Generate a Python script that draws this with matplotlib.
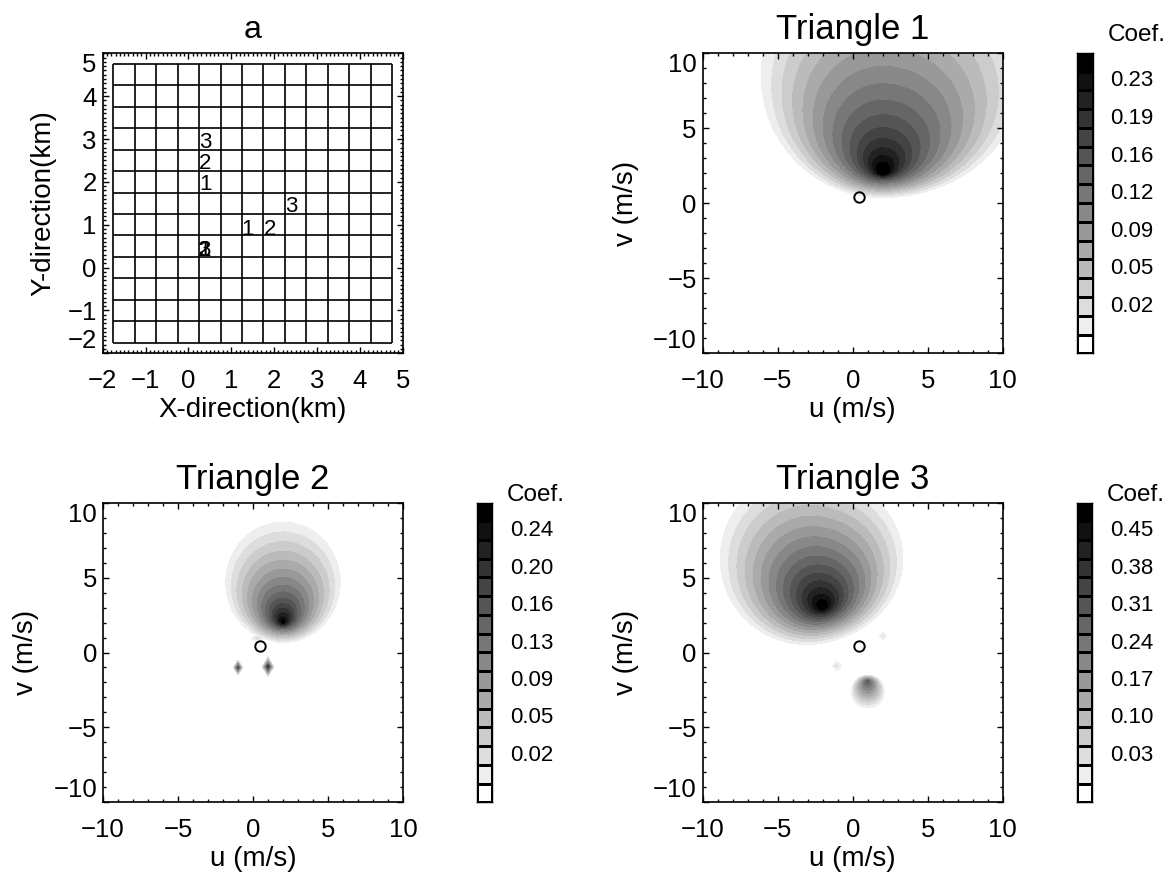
import numpy as np
import matplotlib
matplotlib.use("Agg")
import matplotlib.pyplot as plt
from matplotlib.transforms import offset_copy

plt.rcParams['font.family'] = ['Liberation Sans', 'DejaVu Sans']

# ---------------- data ----------------
# panel a: receiver grid (km) and triangle vertex labels
grid_edges = [-1.75, -1.25, -0.75, -0.25, 0.25, 0.75, 1.25, 1.75,
              2.25, 2.75, 3.25, 3.75, 4.25, 4.75]
site_text = ['1', '2', '3', '1', '2', '3', '1', '2', '3']
site_x = [0.39, 0.39, 0.39, 1.39, 1.90, 2.41, 0.37, 0.37, 0.37]
site_y = [1.94, 2.43, 2.92, 0.90, 0.90, 1.43, 0.41, 0.41, 0.41]
a_ticks = [-2, -1, 0, 1, 2, 3, 4, 5]

# velocity-space axes
uv_ticks = [-10, -5, 0, 5, 10]
true_wind = (0.44, 0.42)

# coefficient level step and colorbar labels for each triangle
t1_step = 0.0175
t1_cb_labels = ['0.02', '0.05', '0.09', '0.12', '0.16', '0.19', '0.23']
t2_step = 0.0182
t2_cb_labels = ['0.02', '0.05', '0.09', '0.13', '0.16', '0.20', '0.24']
t3_step = 0.0345
t3_cb_labels = ['0.03', '0.10', '0.17', '0.24', '0.31', '0.38', '0.45']

# correlation lobes:
# (u0, v0, shift_u, shift_v, stretch_left, stretch_right, a_lin, r_max, a_peak, r_peak)
t1_lobes = [(2.0, 2.0, 0.0, 0.80, 1.0, 1.15, 0.22, 8.8, 0.08, 1.0)]
t2_lobes = [(2.0, 2.0, 0.0, 0.67, 0.95, 0.95, 0.20, 4.4, 0.09, 0.8)]
t3_lobes = [(-2.0, 3.0, -0.19, 0.57, 1.0, 1.15, 0.45, 6.2, 0.12, 1.2),
            (1.0, -1.9, 0.0, -0.64, 1.0, 1.0, 0.35, 1.22, 0.0, 1.0)]
# isolated spikes: (u0, v0, peak, half-width u, half-width v)
t1_spikes = []
t2_spikes = [(-1.0, -1.0, 0.20, 0.36, 0.55),
             (1.0, -0.95, 0.22, 0.45, 0.72),
             (0.3, 0.95, 0.05, 0.60, 0.40)]
t3_spikes = [(-1.07, -0.9, 0.08, 0.55, 0.55),
             (2.0, 1.1, 0.07, 0.45, 0.45)]

N_BOX = 16


def lobe(U, V, u0, v0, bu, bv, sl, sr, a_lin, r_max, a_pk, r_pk):
    # radius of the offset circle through each point: contours are circles
    # whose centres drift away from the peak as they grow
    du = U - u0
    du = np.where(du < 0, du / sl, du / sr)
    dv = V - v0
    k2 = bu ** 2 + bv ** 2
    p = bu * du + bv * dv
    q = du ** 2 + dv ** 2
    R = (-p + np.sqrt(p ** 2 + (1 - k2) * q)) / (1 - k2)
    return a_lin * np.clip(1 - R / r_max, 0, None) + a_pk * np.exp(-R / r_pk)


def spike(U, V, u0, v0, peak, wu, wv):
    return peak * np.clip(1 - np.abs(U - u0) / wu - np.abs(V - v0) / wv, 0, None)


def field(lobes, spikes):
    g = np.linspace(-10, 10, 401)
    U, V = np.meshgrid(g, g)
    Z = np.zeros_like(U)
    for p in lobes:
        Z = np.maximum(Z, lobe(U, V, *p))
    for p in spikes:
        Z = np.maximum(Z, spike(U, V, *p))
    return U, V, Z


box_grays = [str(1 - k / (N_BOX - 1)) for k in range(N_BOX)]

W, H = 1167, 874
fig = plt.figure(figsize=(W / 100, H / 100), dpi=100)


def px_axes(x0, y0, x1, y1):
    return fig.add_axes([x0 / W, 1 - y1 / H, (x1 - x0) / W, (y1 - y0) / H])


TICK_FS = 18.5
LABEL_FS = 20


def style_ticks(ax, major_len, minor_len):
    ax.tick_params(which='both', direction='in', top=True, right=True,
                   width=1.0, labelsize=TICK_FS, color='k')
    ax.tick_params(which='major', length=major_len)
    ax.tick_params(which='minor', length=minor_len)
    ax.tick_params(axis='x', which='major', pad=11)
    ax.tick_params(axis='y', which='major', pad=4.3)
    for s in ax.spines.values():
        s.set_linewidth(1.2)


def pull_in_end_labels(ax):
    ticks = ax.yaxis.get_major_ticks()
    ticks[0].label1.set_verticalalignment('bottom')
    ticks[-1].label1.set_verticalalignment('top')


# ---------------- panel a ----------------
ax_a = px_axes(102.7, 53.3, 402.7, 353.3)
ax_a.set_xlim(-2, 5)
ax_a.set_ylim(-2, 5)
ax_a.vlines(grid_edges, grid_edges[0], grid_edges[-1], colors='k', linewidth=1.2)
ax_a.hlines(grid_edges, grid_edges[0], grid_edges[-1], colors='k', linewidth=1.2)
for t, x, y in zip(site_text, site_x, site_y):
    ax_a.text(x, y, t, fontsize=16, ha='center', va='center')
ax_a.set_xticks(a_ticks)
ax_a.set_yticks(a_ticks)
ax_a.set_xticks(np.arange(-2, 5.001, 0.1), minor=True)
ax_a.set_yticks(np.arange(-2, 5.001, 0.1), minor=True)
style_ticks(ax_a, 4, 2)
pull_in_end_labels(ax_a)
ax_a.set_xlabel('X-direction(km)', fontsize=LABEL_FS, labelpad=3)
ax_a.set_ylabel('Y-direction(km)', fontsize=LABEL_FS, labelpad=8)
ax_a.set_title('a', fontsize=23, pad=11)


# ---------------- triangle panels ----------------
def triangle(ax, cax, title, step, cb_labels, lobes, spikes, coef_y):
    U, V, Z = field(lobes, spikes)
    levels = [step * k for k in range(1, N_BOX)] + [10.0]
    ax.contourf(U, V, Z, levels=levels, colors=box_grays[1:])
    ax.plot(*true_wind, 'o', mfc='none', mec='k', ms=7.5, mew=1.4)
    ax.set_xlim(-10, 10)
    ax.set_ylim(-10, 10)
    ax.set_xticks(uv_ticks)
    ax.set_yticks(uv_ticks)
    ax.set_xticks(np.arange(-10, 11, 1), minor=True)
    ax.set_yticks(np.arange(-10, 11, 1), minor=True)
    style_ticks(ax, 4.3, 2.2)
    pull_in_end_labels(ax)
    ax.set_xlabel('u (m/s)', fontsize=LABEL_FS, labelpad=3)
    ax.set_ylabel('v (m/s)', fontsize=LABEL_FS, labelpad=10)
    ax.set_title(title, fontsize=25, pad=10)

    # stepped colorbar: one outlined box per coefficient level
    cax.pcolormesh([0, 1], np.arange(N_BOX + 1), np.arange(N_BOX)[:, None],
                   cmap=matplotlib.colors.ListedColormap(box_grays),
                   vmin=-0.5, vmax=N_BOX - 0.5, edgecolors='k', linewidth=1.0)
    cax.set_xlim(0, 1)
    cax.set_ylim(0, N_BOX)
    cax.set_xticks([])
    cax.set_yticks([])
    for s in cax.spines.values():
        s.set_linewidth(1.0)
    tr = offset_copy(cax.get_yaxis_transform(), fig=fig, x=17.5 * 0.72, units='points')
    for i, lab in enumerate(cb_labels):
        cax.text(1.0, 2 * i + 2.5, lab, transform=tr, fontsize=16,
                 ha='left', va='center')
    bb = cax.get_position()
    fig.text(bb.x1 + 15 / W, 1 - coef_y / H, 'Coef.', fontsize=17.5,
             ha='left', va='center')


ax1 = px_axes(702.7, 53.3, 1002.7, 353.3)
cb1 = px_axes(1077.3, 52.8, 1092.8, 353.3)
triangle(ax1, cb1, 'Triangle 1', t1_step, t1_cb_labels, t1_lobes, t1_spikes, 35)

ax2 = px_axes(103, 502.7, 403, 802.3)
cb2 = px_axes(476.7, 502.5, 492.2, 802.3)
triangle(ax2, cb2, 'Triangle 2', t2_step, t2_cb_labels, t2_lobes, t2_spikes, 495)

ax3 = px_axes(702.7, 502.7, 1002.7, 802.3)
cb3 = px_axes(1076.7, 502.5, 1092.2, 802.3)
triangle(ax3, cb3, 'Triangle 3', t3_step, t3_cb_labels, t3_lobes, t3_spikes, 495)

fig.savefig('out.png', dpi=100, facecolor='white')
